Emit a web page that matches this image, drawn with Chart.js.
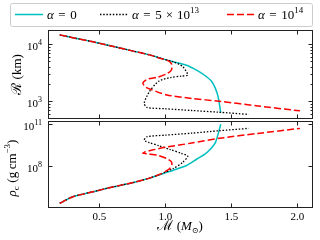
<!DOCTYPE html>
<html>
<head>
<meta charset="utf-8">
<script src="https://cdn.jsdelivr.net/npm/chart.js@4.4.0/dist/chart.umd.min.js"></script>
<style>
  html, body { margin: 0; padding: 0; background: #fff; }
  #wrap { position: relative; width: 320px; height: 240px; overflow: hidden; }
  #top-canvas { position: absolute; left: 0; top: 0; }
  #bot-canvas { position: absolute; left: 0; top: 105px; }
</style>
</head>
<body>
<div id="wrap">
  <canvas id="bot-canvas" width="320" height="135"></canvas>
  <canvas id="top-canvas" width="320" height="125"></canvas>
</div>
<script>
// mass (M_sun), radius (km), central density (g/cm^3), one entry per model
const massA0   = [0.20, 0.30, 0.45, 0.60, 0.75, 0.88, 0.98, 1.06, 1.16, 1.24, 1.30, 1.35, 1.38, 1.40, 1.41, 1.42];
const radiusA0 = [14450, 12880, 10960, 9120, 7590, 6460, 5500, 4900, 4270, 3470, 2820, 2240, 1660, 1200, 890, 630];
const rhoA0    = [2.1e5, 6.2e5, 1.4e6, 3.1e6, 6.3e6, 1.35e7, 2.8e7, 5.0e7, 1.1e8, 3.2e8, 7.1e8, 2.0e9, 5.0e9, 2.0e10, 4.5e10, 1.0e11];

const massA1   = [0.20, 0.30, 0.45, 0.60, 0.75, 0.88, 0.98, 1.06, 1.13, 1.17, 1.12, 1.04, 0.95, 0.88, 0.84, 0.86, 1.00, 1.20, 1.40, 1.63];
const radiusA1 = [14450, 12880, 10960, 9120, 7590, 6460, 5500, 4900, 4070, 2880, 2750, 2600, 2240, 1480, 930, 780, 740, 690, 645, 590];
const rhoA1    = [2.1e5, 6.2e5, 1.4e6, 3.1e6, 6.3e6, 1.35e7, 3.0e7, 6.6e7, 1.8e8, 5.0e8, 8.3e8, 1.5e9, 2.9e9, 4.8e9, 7.1e9, 1.26e10, 1.66e10, 2.3e10, 3.4e10, 5.1e10];

const massA2   = [0.20, 0.30, 0.45, 0.60, 0.75, 0.88, 0.96, 1.02, 1.045, 1.05, 1.045, 1.01, 0.94, 0.87, 0.83, 0.85, 0.90, 1.01, 1.20, 1.41, 1.70, 2.02];
const radiusA2 = [14450, 12880, 10960, 9120, 7590, 6460, 5620, 5130, 4570, 3980, 3470, 3020, 2630, 2450, 2090, 1780, 1580, 1290, 1120, 1000, 830, 680];
const rhoA2    = [2.1e5, 6.2e5, 1.4e6, 3.1e6, 6.3e6, 1.35e7, 2.6e7, 5.2e7, 8.9e7, 1.4e8, 2.1e8, 3.5e8, 6.0e8, 7.4e8, 8.3e8, 1.05e9, 1.4e9, 2.3e9, 4.5e9, 9.8e9, 2.2e10, 5.1e10];

// ticks
const xTicks      = [0.5, 1.0, 1.5, 2.0];
const xTickLabels = ['0.5', '1.0', '1.5', '2.0'];
const rMajor      = [1e3, 1e4];
const rMinor      = [600, 700, 800, 900, 2000, 3000, 4000, 5000, 6000, 7000, 8000, 9000];
const rhoMajor    = [1e8, 1e11];

const SERIF = '"Liberation Serif", "DejaVu Serif", serif';
const font = (size, style) => (style ? style + ' ' : '') + size + 'px ' + SERIF;

// draw a row of text pieces (for super/subscripts)
function drawRuns(ctx, runs, x, y, align) {
  let w = 0;
  runs.forEach(r => { ctx.font = r.font; w += (r.gap || 0) + ctx.measureText(r.text).width; });
  let cx = align === 'right' ? x - w : align === 'center' ? x - w / 2 : x;
  ctx.textAlign = 'left';
  ctx.textBaseline = 'alphabetic';
  ctx.fillStyle = '#000';
  runs.forEach(r => {
    ctx.font = r.font;
    cx += r.gap || 0;
    ctx.fillText(r.text, cx, y + (r.dy || 0));
    cx += ctx.measureText(r.text).width;
  });
}

const pow10 = (v) => [
  { text: '10', font: font(11) },
  { text: String(Math.round(Math.log10(v))), font: font(8), dy: -5 }
];

const series = [
  { name: 'a0', mass: massA0, R: radiusA0, rho: rhoA0, color: '#00bfbf', dash: [], width: 1.5, order: 3,
    label: [{ text: 'α', font: font(13, 'italic') }, { text: '=', font: font(13), gap: 4.5 }, { text: '0', font: font(13), gap: 4.5 }] },
  { name: 'a1', mass: massA1, R: radiusA1, rho: rhoA1, color: '#000000', dash: [1.5, 1.7], width: 1.3, order: 2,
    label: [{ text: 'α', font: font(13, 'italic') }, { text: '=', font: font(13), gap: 4.5 }, { text: '5', font: font(13), gap: 4.5 },
            { text: '×', font: font(13), gap: 4 }, { text: '10', font: font(13), gap: 4 }, { text: '13', font: font(9), dy: -6 }] },
  { name: 'a2', mass: massA2, R: radiusA2, rho: rhoA2, color: '#ff0000', dash: [7, 3], width: 1.5, order: 1,
    label: [{ text: 'α', font: font(13, 'italic') }, { text: '=', font: font(13), gap: 4.5 }, { text: '10', font: font(13), gap: 4.5 },
            { text: '14', font: font(9), dy: -6 }] }
];

function buildDatasets(key) {
  return series.map(s => ({
    label: s.name,
    data: s.mass.map((m, i) => ({ x: m, y: s[key][i] })),
    showLine: true,
    borderColor: s.color,
    borderWidth: s.width,
    borderDash: s.dash,
    borderCapStyle: 'butt',
    pointRadius: 0,
    tension: 0.25,
    fill: false,
    order: s.order
  }));
}

// box, inward ticks, labels
function framePlugin(cfg) {
  return {
    id: 'frame',
    afterDraw(chart) {
      const { ctx, chartArea: a, scales: { x, y } } = chart;
      const L = Math.round(a.left) + 0.5, R = Math.round(a.right) - 0.5;
      const T = Math.round(a.top) + 0.5, B = Math.round(a.bottom) - 0.5;
      ctx.save();
      ctx.strokeStyle = '#222';
      ctx.lineWidth = 1;
      ctx.strokeRect(L, T, R - L, B - T);
      ctx.beginPath();
      xTicks.forEach(v => {
        const px = Math.round(x.getPixelForValue(v)) + 0.5;
        ctx.moveTo(px, T); ctx.lineTo(px, T + 4);
        ctx.moveTo(px, B); ctx.lineTo(px, B - 4);
      });
      cfg.yMajor.forEach(v => {
        const py = Math.round(y.getPixelForValue(v)) + 0.5;
        ctx.moveTo(L, py); ctx.lineTo(L + 4, py);
        ctx.moveTo(R, py); ctx.lineTo(R - 4, py);
      });
      (cfg.yMinor || []).forEach(v => {
        const py = Math.round(y.getPixelForValue(v)) + 0.5;
        ctx.moveTo(L, py); ctx.lineTo(L + 2, py);
        ctx.moveTo(R, py); ctx.lineTo(R - 2, py);
      });
      ctx.stroke();

      cfg.yMajor.forEach(v => {
        drawRuns(ctx, pow10(v), 42, y.getPixelForValue(v) + 5.5, 'right');
      });
      if (cfg.xLabels) {
        xTicks.forEach((v, i) => {
          drawRuns(ctx, [{ text: xTickLabels[i], font: font(11) }], x.getPixelForValue(v), B + 12, 'center');
        });
      }
      cfg.extra(ctx, chart);
      ctx.restore();
    }
  };
}

function drawLegend(ctx) {
  ctx.save();
  ctx.fillStyle = '#fff';
  ctx.strokeStyle = '#cccccc';
  ctx.lineWidth = 1;
  ctx.beginPath();
  ctx.roundRect(10.5, 3.5, 302, 23, 2);
  ctx.fill();
  ctx.stroke();
  const handleX = [15, 100, 227];
  const textX = [47, 132, 258];
  series.forEach((s, i) => {
    ctx.beginPath();
    ctx.strokeStyle = s.color;
    ctx.lineWidth = s.width;
    ctx.setLineDash(s.dash);
    ctx.moveTo(handleX[i], 14.5);
    ctx.lineTo(handleX[i] + 28, 14.5);
    ctx.stroke();
    ctx.setLineDash([]);
    drawRuns(ctx, s.label, textX[i], 18.5, 'left');
  });
  ctx.restore();
}

function rotatedTitle(ctx, runs, cx, cy) {
  ctx.save();
  ctx.translate(cx, cy);
  ctx.rotate(-Math.PI / 2);
  drawRuns(ctx, runs, 0, 0, 'center');
  ctx.restore();
}

const baseOptions = (padding, yMin, yMax) => ({
  responsive: false,
  animation: false,
  layout: { padding },
  plugins: { legend: { display: false }, tooltip: { enabled: false } },
  scales: {
    x: { type: 'linear', min: 0.111, max: 2.119, display: false },
    y: { type: 'logarithmic', min: yMin, max: yMax, display: false }
  }
});

new Chart(document.getElementById('top-canvas'), {
  type: 'scatter',
  data: { datasets: buildDatasets('R') },
  options: baseOptions({ left: 48, right: 7, top: 30, bottom: 6 }, 490, 17580),
  plugins: [framePlugin({
    yMajor: rMajor,
    yMinor: rMinor,
    xLabels: false,
    extra(ctx) {
      drawLegend(ctx);
      rotatedTitle(ctx, [
        { text: 'ℛ', font: font(14) },
        { text: '(km)', font: font(13), gap: 3.5 }
      ], 21, 74.5);
    }
  })]
});

new Chart(document.getElementById('bot-canvas'), {
  type: 'scatter',
  data: { datasets: buildDatasets('rho') },
  options: baseOptions({ left: 48, right: 7, top: 16, bottom: 32 }, 9.6e4, 1.73e11),
  plugins: [framePlugin({
    yMajor: rhoMajor,
    xLabels: true,
    extra(ctx) {
      rotatedTitle(ctx, [
        { text: 'ρ', font: font(13, 'italic') },
        { text: 'c', font: font(9), dy: 3 },
        { text: '(g', font: font(13), gap: 3.5 },
        { text: 'cm', font: font(13), gap: 2.5 },
        { text: '−3', font: font(9), dy: -6 },
        { text: ')', font: font(13) }
      ], 15.5, 63);
      drawRuns(ctx, [
        { text: 'ℳ', font: font(14) },
        { text: '(', font: font(13), gap: 3.5 },
        { text: 'M', font: font(13, 'italic') },
        { text: '⊙', font: font(8), dy: 3 },
        { text: ')', font: font(13) }
      ], 180, 125, 'center');
    }
  })]
});
</script>
</body>
</html>
